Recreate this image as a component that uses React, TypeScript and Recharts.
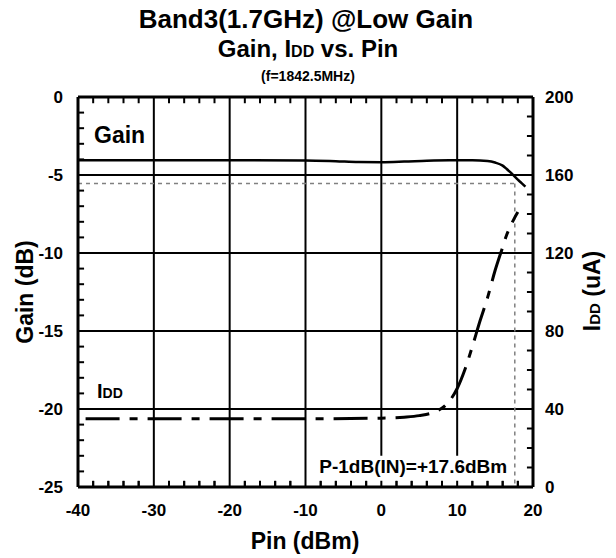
import {
  ComposedChart,
  CartesianGrid,
  Customized,
  Line,
  ReferenceArea,
  ReferenceLine,
  Scatter,
  XAxis,
  YAxis,
} from "recharts";

const pinTicks = [-40, -30, -20, -10, 0, 10, 20];
const pinMinorTicks = [-38, -36, -34, -32, -28, -26, -24, -22, -18, -16, -14, -12, -8, -6, -4, -2, 2, 4, 6, 8, 12, 14, 16, 18];
const gainTicks = [-25, -20, -15, -10, -5, 0];
const gainMinorTicks = [-24, -23, -22, -21, -19, -18, -17, -16, -14, -13, -12, -11, -9, -8, -7, -6, -4, -3, -2, -1];
const iddTicks = [0, 40, 80, 120, 160, 200];
const iddMinorTicks = [10, 20, 30, 50, 60, 70, 90, 100, 110, 130, 140, 150, 170, 180, 190];
const pinGrid = [-30, -20, -10, 0, 10];
const gainGrid = [-20, -15, -10, -5];

const gainPin = [-40, -30, -20, -10, -6, -3, 0, 3, 6, 9, 12, 14, 15, 16, 16.5, 17, 17.5, 18, 18.5, 19];
const gainDb = [-4.05, -4.05, -4.05, -4.07, -4.12, -4.17, -4.18, -4.14, -4.08, -4.05, -4.05, -4.1, -4.2, -4.4, -4.6, -4.82, -5.05, -5.3, -5.52, -5.75];

const iddPin = [-39, -30, -20, -10, 0, 3, 5, 7, 8.5, 10, 11, 12, 13, 14, 15, 16, 16.5, 17, 17.5, 18];
const iddUa = [35, 35, 35, 35, 35.3, 35.8, 36.6, 38.5, 42, 50.5, 60, 72, 85, 97, 111, 123, 129, 133.5, 137.5, 141];

const p1dbPin = 17.6;
const p1dbGain = -5.55;

const pinMin = -40;
const pinMax = 20;
const gainMin = -25;
const gainMax = 0;
const iddMin = 0;
const iddMax = 200;
// minor tick length in data units (~6px)
const tickPin = 0.8;
const tickIdd = 3.2;

const gainData = gainPin.map((pin, i) => ({ pin, gain: gainDb[i] }));
const iddData = iddPin.map((pin, i) => ({ pin, idd: iddUa[i] }));
const bottomTickData = pinMinorTicks.map((pin) => ({ pin, gain: gainMin }));

const font = "'Liberation Sans', Arial, sans-serif";
const tickStyle = { fill: "#000", fontSize: 17, fontWeight: 700, fontFamily: font };
const frame = { stroke: "#000", strokeWidth: 3 };

const BottomTick = (props: any) => {
  const { cx, cy } = props;
  if (cx == null || cy == null) return null;
  return <line x1={cx} y1={cy} x2={cx} y2={cy - 6} stroke="#000" strokeWidth={2} />;
};

const Titles = () => (
  <g fontFamily={font} fontWeight={700} fill="#000">
    <text x={306} y={28} textAnchor="middle" fontSize={26}>
      Band3(1.7GHz) @Low Gain
    </text>
    <text x={308} y={57} textAnchor="middle" fontSize={24}>
      Gain, I<tspan fontSize={16}>DD</tspan> vs. Pin
    </text>
    <text x={308} y={81} textAnchor="middle" fontSize={14}>
      (f=1842.5MHz)
    </text>
    <text x={305} y={549} textAnchor="middle" fontSize={23}>
      Pin (dBm)
    </text>
    <text x={33} y={292} textAnchor="middle" fontSize={23} transform="rotate(-90 33 292)">
      Gain (dB)
    </text>
    <text x={600} y={291} textAnchor="middle" fontSize={23} transform="rotate(-90 600 291)">
      I<tspan fontSize={15}>DD</tspan> (uA)
    </text>
    <text x={94} y={143} fontSize={23}>
      Gain
    </text>
    <text x={97} y={398} fontSize={20}>
      I<tspan fontSize={14}>DD</tspan>
    </text>
  </g>
);

export default function App() {
  return (
    <div style={{ position: "absolute", left: 0, top: 0 }}>
      <ComposedChart width={616} height={558} margin={{ top: 97, right: 0, bottom: 0, left: 0 }}>
        <CartesianGrid
          horizontalValues={gainGrid}
          verticalValues={pinGrid}
          stroke="#000"
          strokeWidth={2}
        />
        <XAxis
          type="number"
          dataKey="pin"
          domain={[pinMin, pinMax]}
          ticks={pinTicks}
          interval={0}
          allowDataOverflow
          height={71}
          tickSize={0}
          tickMargin={17}
          tick={tickStyle}
          tickLine={false}
          axisLine={frame}
        />
        <YAxis
          type="number"
          domain={[gainMin, gainMax]}
          ticks={gainTicks}
          interval={0}
          allowDataOverflow
          width={78}
          tickSize={0}
          tickMargin={15}
          tick={tickStyle}
          tickLine={false}
          axisLine={frame}
        />
        <YAxis
          yAxisId="right"
          orientation="right"
          type="number"
          domain={[iddMin, iddMax]}
          ticks={iddTicks}
          interval={0}
          allowDataOverflow
          width={83}
          tickSize={0}
          tickMargin={12}
          tick={tickStyle}
          tickLine={false}
          axisLine={frame}
        />
        <ReferenceLine y={gainMax} stroke="#000" strokeWidth={3} ifOverflow="visible" />
        {pinMinorTicks.map((v) => (
          <ReferenceLine
            key={`b${v}`}
            yAxisId="right"
            ifOverflow="visible"
            segment={[
              { x: v, y: iddMin },
              { x: v, y: iddMin + tickIdd },
            ]}
            stroke="#000"
            strokeWidth={2}
          />
        ))}
        {pinMinorTicks.map((v) => (
          <ReferenceLine
            key={`t${v}`}
            yAxisId="right"
            ifOverflow="visible"
            segment={[
              { x: v, y: iddMax },
              { x: v, y: iddMax - tickIdd },
            ]}
            stroke="#000"
            strokeWidth={2}
          />
        ))}
        {gainMinorTicks.map((v) => (
          <ReferenceLine
            key={`l${v}`}
            ifOverflow="visible"
            segment={[
              { x: pinMin, y: v },
              { x: pinMin + tickPin, y: v },
            ]}
            stroke="#000"
            strokeWidth={2}
          />
        ))}
        {iddMinorTicks.map((v) => (
          <ReferenceLine
            key={`r${v}`}
            yAxisId="right"
            ifOverflow="visible"
            segment={[
              { x: pinMax, y: v },
              { x: pinMax - tickPin, y: v },
            ]}
            stroke="#000"
            strokeWidth={2}
          />
        ))}
        <ReferenceArea
          x1={-9}
          x2={17}
          y1={-24.6}
          y2={-23}
          fill="#fff"
          fillOpacity={1}
          stroke="none"
          label={(props: any) => {
            const vb = props.viewBox || {};
            return (
              <text
                x={vb.x + vb.width - 3}
                y={vb.y + vb.height - 8}
                textAnchor="end"
                fontFamily={font}
                fontWeight={700}
                fontSize={19}
                fill="#000"
              >
                P-1dB(IN)=+17.6dBm
              </text>
            );
          }}
        />
        <ReferenceLine
          segment={[
            { x: pinMin, y: p1dbGain },
            { x: p1dbPin, y: p1dbGain },
          ]}
          stroke="#808080"
          strokeWidth={1.5}
          strokeDasharray="4 4"
        />
        <ReferenceLine
          ifOverflow="visible"
          segment={[
            { x: p1dbPin, y: p1dbGain },
            { x: p1dbPin, y: gainMin },
          ]}
          stroke="#808080"
          strokeWidth={1.5}
          strokeDasharray="4 4"
        />
        <Scatter
          data={bottomTickData}
          dataKey="gain"
          shape={BottomTick}
          isAnimationActive={false}
        />
        <Line
          data={gainData}
          dataKey="gain"
          type="monotone"
          stroke="#000"
          strokeWidth={2.5}
          dot={false}
          isAnimationActive={false}
        />
        <Line
          data={iddData}
          dataKey="idd"
          yAxisId="right"
          type="monotone"
          stroke="#000"
          strokeWidth={3}
          strokeDasharray="34 10 8 10"
          dot={false}
          isAnimationActive={false}
        />
        <Customized component={Titles} />
      </ComposedChart>
    </div>
  );
}
